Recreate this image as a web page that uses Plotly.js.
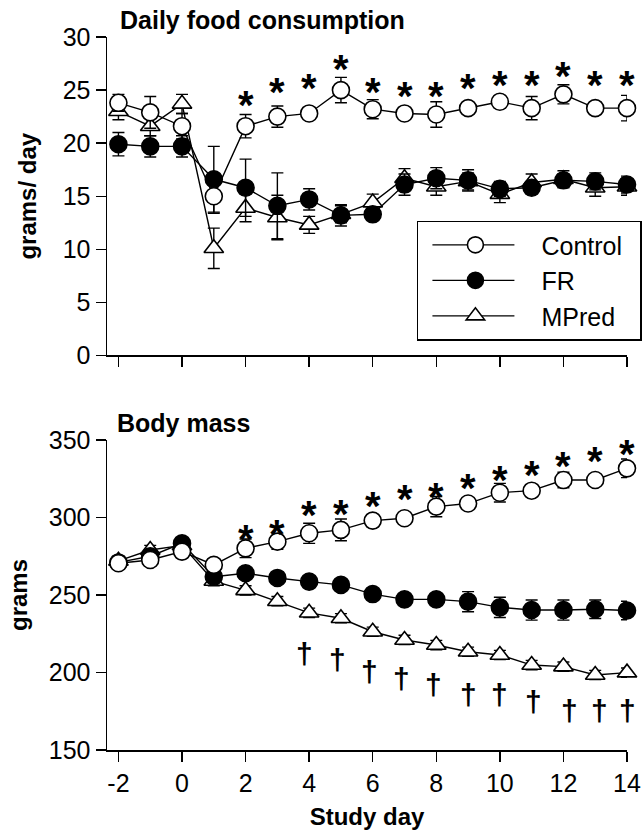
<!DOCTYPE html>
<html><head><meta charset="utf-8">
<script src="https://cdn.plot.ly/plotly-3.0.1.min.js"></script>
<style>html,body{margin:0;padding:0;background:#fff}</style>
</head><body>
<div id="chart" style="width:644px;height:830px"></div>
<script>
// ---------- data ----------
const days = [-2,-1,0,1,2,3,4,5,6,7,8,9,10,11,12,13,14];
const xTicks = [-2,0,2,4,6,8,10,12,14];
const xTickLabels = ['-2','0','2','4','6','8','10','12','14'];
const groupNames = ['Control','FR','MPred'];

// Daily food consumption (grams/ day)
const foodControl    = [23.8,22.9,21.6,15.0,21.6,22.5,22.8,25.0,23.2,22.8,22.7,23.3,23.9,23.3,24.6,23.3,23.3];
const foodControlErr = [0.8,1.5,1.2,1.6,1.1,1.0,0.5,1.2,0.9,0.5,1.2,0.5,0.6,1.1,0.9,0.6,1.2];
const foodFR         = [19.9,19.7,19.7,16.6,15.8,14.1,14.7,13.2,13.3,16.1,16.7,16.5,15.7,15.8,16.5,16.4,16.1];
const foodFRErr      = [1.1,1.0,1.0,3.1,2.7,3.1,1.0,1.0,0.5,1.0,1.0,1.0,0.7,0.6,0.6,0.8,0.8];
const foodMPred      = [23.0,21.6,23.7,10.1,13.9,13.0,12.3,13.3,14.4,16.7,15.9,16.4,15.2,16.3,16.6,15.8,15.9];
const foodMPredErr   = [0.8,0.9,0.9,1.9,1.3,2.1,0.8,0.8,0.8,0.9,0.8,0.8,0.8,0.8,0.8,0.8,0.8];
const foodSigDays    = [2,3,4,5,6,7,8,9,10,11,12,13,14];
const foodSigY       = [24.4,25.7,26.0,27.8,25.7,25.3,25.3,26.0,26.3,26.3,27.2,26.3,26.3];

// Body mass (grams)
const massControl    = [270.5,272.6,278.0,269.4,280.1,284.4,289.8,292.0,298.0,299.5,307.0,309.0,316.0,317.3,324.2,324.2,331.7];
const massControlErr = [4,4,4,4,6,5,6.5,7,4,3,6.5,3,6,3,5,3,6];
const massFR         = [271.0,275.0,283.3,261.8,264.0,261.0,258.6,256.5,250.6,247.2,247.2,245.7,242.0,240.3,240.3,240.8,240.0];
const massFRErr      = [3,3,3,3,3,3,3,3,3,3,3,6.5,6.5,6.5,6.5,6,6];
const massMPred      = [272.0,279.0,282.0,259.0,253.0,246.0,238.5,235.0,226.3,221.0,217.7,213.4,211.3,204.8,203.8,198.4,199.9];
const massMPredErr   = [3,3,3,3,3,3,3,3,3,3,3,3,3,3,3,3,3];
const massSigDays    = [2,3,4,5,6,7,8,9,10,11,12,13,14];
const massSigY       = [292.0,295.2,307.4,308.0,313.1,317.7,318.8,324.8,330.0,333.2,339.2,342.5,346.8];
const daggerDays     = [3.85,4.9,5.9,6.9,7.9,9.0,10.0,11.05,12.2,13.15,14.0];
const daggerY        = [212.4,208.5,200.5,196.0,192.0,185.5,185.5,181.0,175.8,175.8,175.8];

// ---------- styling ----------
const FONT = 'Liberation Sans, Arial, Helvetica, sans-serif';
const styles = {
  Control: {symbol:'circle', fill:'#ffffff', rank:1},
  FR:      {symbol:'circle', fill:'#000000', rank:2},
  MPred:   {symbol:'triangle-up', fill:'#ffffff', rank:3}
};

function series(name, y, err, xa, ya, showlegend){
  const s = styles[name];
  return {
    type:'scatter', mode:'lines+markers', name:name,
    x:days, y:y, xaxis:xa, yaxis:ya,
    legendrank:s.rank, showlegend:showlegend, cliponaxis:false,
    line:{color:'#000', width:1.4},
    marker:{symbol:s.symbol, size:17, color:s.fill, line:{color:'#000', width:1.6}},
    error_y:{type:'data', array:err, visible:true, color:'#000', thickness:1.4, width:6},
    hoverinfo:'skip'
  };
}
// significance marks as annotations placed through the axes' scales
function marks(xs, ys, ch, size, xa, ya, yshift){
  return xs.map((d,i)=>({x:d, y:ys[i], xref:xa, yref:ya, text:ch, showarrow:false,
    xanchor:'center', yanchor:'middle', yshift:yshift, font:{family:FONT, size:size, color:'#000'}}));
}

const traces = [
  series('MPred', foodMPred, foodMPredErr, 'x', 'y', true),
  series('FR', foodFR, foodFRErr, 'x', 'y', true),
  series('Control', foodControl, foodControlErr, 'x', 'y', true),
  series('MPred', massMPred, massMPredErr, 'x2', 'y2', false),
  series('FR', massFR, massFRErr, 'x2', 'y2', false),
  series('Control', massControl, massControlErr, 'x2', 'y2', false)
];

const axisLine = {showline:true, linecolor:'#000', linewidth:1.5, ticks:'outside',
  ticklen:10, tickwidth:1.5, tickcolor:'#000', showgrid:false, zeroline:false, tickfont:{size:25}};

const layout = {
  width:644, height:830,
  margin:{l:107, r:17, t:37, b:80},
  paper_bgcolor:'#fff', plot_bgcolor:'rgba(0,0,0,0)',
  font:{family:FONT, size:24, color:'#000'},
  showlegend:true,
  legend:{x:0.596, y:0.7425, xanchor:'left', yanchor:'top', traceorder:'normal',
    bordercolor:'#000', borderwidth:1.5, bgcolor:'#fff', font:{size:25}, itemwidth:113},
  xaxis:Object.assign({}, axisLine, {domain:[0,1], anchor:'y', range:[-2.36,14], tickvals:xTicks, ticktext:xTickLabels, showticklabels:false}),
  yaxis:Object.assign({}, axisLine, {domain:[0.5533,1], anchor:'x', range:[0,30], dtick:5,
    title:{text:'<b>grams/ day</b>', font:{size:24}, standoff:19}}),
  xaxis2:Object.assign({}, axisLine, {domain:[0,1], anchor:'y2', range:[-2.36,14], tickvals:xTicks, ticktext:xTickLabels,
    title:{text:'<b>Study day</b>', font:{size:24}, standoff:14}}),
  yaxis2:Object.assign({}, axisLine, {domain:[0,0.4348], anchor:'x2', range:[150,350], dtick:50,
    title:{text:'<b>grams</b>', font:{size:24}, standoff:14}}),
  annotations:[
    {text:'<b>Daily food consumption</b>', xref:'paper', yref:'paper', x:0.022, y:1.0238,
     xanchor:'left', yanchor:'middle', showarrow:false, font:{size:25}},
    {text:'<b>Body mass</b>', xref:'paper', yref:'paper', x:0.015, y:0.4586,
     xanchor:'left', yanchor:'middle', showarrow:false, font:{size:25}}
  ].concat(
    marks(foodSigDays, foodSigY, '<b>*</b>', 40, 'x', 'y', -9),
    marks(massSigDays, massSigY, '<b>*</b>', 40, 'x2', 'y2', -9),
    marks(daggerDays, daggerY, '<b>†</b>', 30, 'x2', 'y2', 0)
  )
};

Plotly.newPlot('chart', traces, layout, {staticPlot:true, displayModeBar:false}).then(gd => {
  // lengthen the legend sample lines to match the original key
  const leg = gd.querySelector('.legend');
  if(!leg) return;
  leg.querySelectorAll('path.js-line').forEach(p => p.setAttribute('d','M14,0h82'));
  leg.querySelectorAll('path.scatterpts').forEach(p => p.setAttribute('transform','translate(57,0)'));
  const bg = leg.querySelector('rect.bg');
  if(bg && parseFloat(bg.getAttribute('width')) < 223.5) bg.setAttribute('width', 223.5);
});
</script>
</body></html>
